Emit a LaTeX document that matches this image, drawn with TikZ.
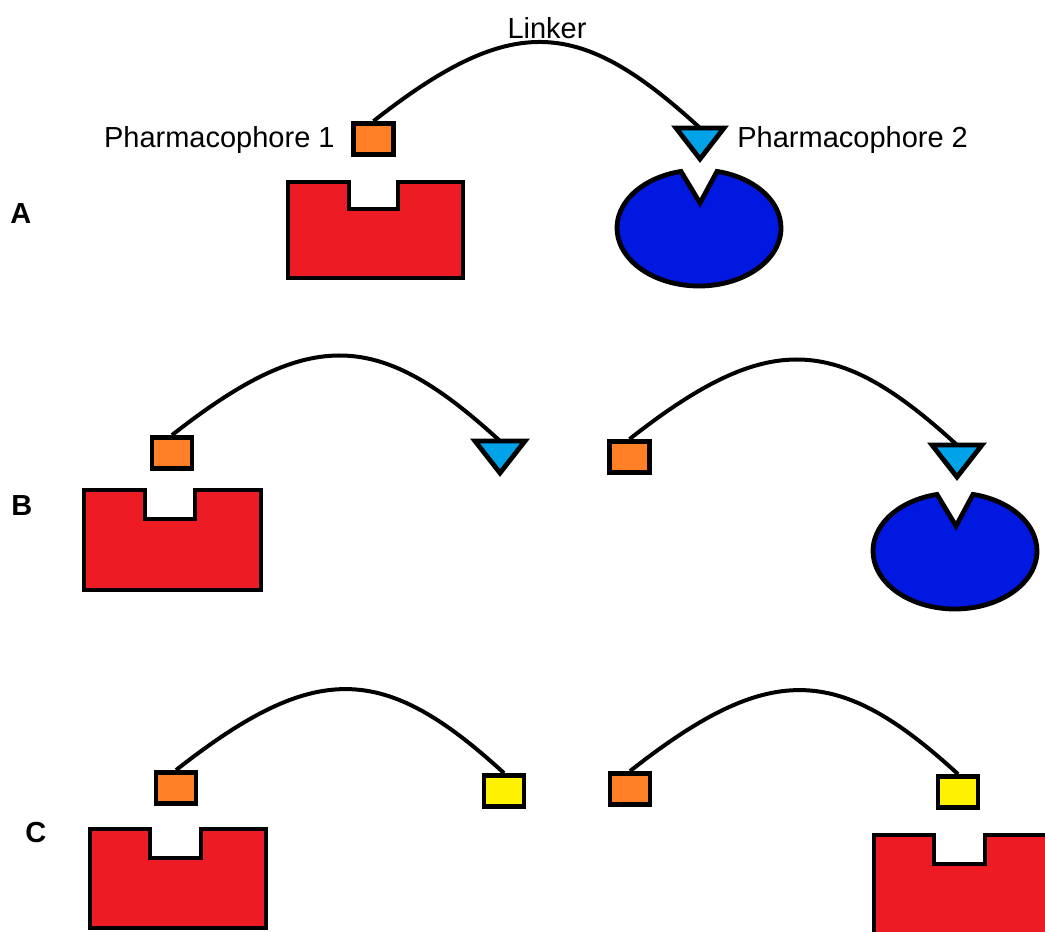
\documentclass[tikz,border=0pt]{standalone}
\usepackage{fontspec}
\setmainfont{Liberation Sans}
\usetikzlibrary{positioning,calc}

\definecolor{recred}{RGB}{237,28,36}
\definecolor{recblue}{RGB}{0,24,224}
\definecolor{ligorange}{RGB}{255,127,39}
\definecolor{ligcyan}{RGB}{0,162,232}
\definecolor{ligyellow}{RGB}{255,242,0}

\begin{document}
\begin{tikzpicture}[x=0.5pt,y=-0.5pt,
  outline/.style={draw=black,line width=2.4pt,line join=miter},
  frag/.style={outline,minimum width=20pt,minimum height=15.5pt,inner sep=0pt},
  linker/.style={draw=black,line width=2pt},
  lbl/.style={inner sep=0pt,font=\fontsize{14.5pt}{17pt}\selectfont},
  panel/.style={inner sep=0pt,font=\fontsize{14.5pt}{17pt}\selectfont\bfseries}]
\clip (0,0) rectangle (1045,932);
\fill[white] (0,0) rectangle (1045,932);

% A
\node[panel,anchor=base west] (pa) at (10,223) {A};
\draw[outline,fill=recred] (288,182) -- ++(61,0) -- ++(0,27) -- ++(49,0) -- ++(0,-27) -- ++(65,0) -- ++(0,96) -- ++(-175,0) -- cycle;
\draw[outline,fill=recblue] (699,228) ++(-77.3:82 and 58) arc[start angle=-77.3,end angle=257.3,x radius=82,y radius=58] -- (700,203) -- cycle;
\node[frag,fill=ligorange] (o1) at (373.5,139) {};
\coordinate (t1) at (700,128);
\draw[outline,fill=ligcyan] (t1) ++(-24,0) -- ++(48,0) -- ++(-24,31) -- cycle;
\draw[linker] (o1.north) .. controls +(140,-110) and +(-120,-110) .. (t1);
\node[lbl,anchor=base] (lk) at (547,38) {Linker};
\node[lbl,anchor=base east] (p1) at (335,147) {Pharmacophore 1};
\node[lbl,anchor=base west] (p2) at (737,147) {Pharmacophore 2};

% B
\node[panel,anchor=base west] (pb) at (11,515) {B};
\draw[outline,fill=recred] (84,490) -- ++(61,0) -- ++(0,29) -- ++(50,0) -- ++(0,-29) -- ++(66,0) -- ++(0,100) -- ++(-177,0) -- cycle;
\draw[outline,fill=recblue] (955,551) ++(-77.3:82 and 58) arc[start angle=-77.3,end angle=257.3,x radius=82,y radius=58] -- (956,526) -- cycle;
\node[frag,fill=ligorange] (o2) at (172,453) {};
\coordinate (t2) at (500,441);
\draw[outline,fill=ligcyan] (t2) ++(-25,0) -- ++(50,0) -- ++(-25,32) -- cycle;
\draw[linker] (o2.north) .. controls +(140,-110) and +(-120,-110) .. (t2);
\node[frag,fill=ligorange] (o3) at (629.5,457) {};
\coordinate (t3) at (957,445);
\draw[outline,fill=ligcyan] (t3) ++(-25,0) -- ++(50,0) -- ++(-25,32) -- cycle;
\draw[linker] (o3.north) .. controls +(140,-110) and +(-120,-110) .. (t3);

% C
\node[panel,anchor=base west] (pc) at (25,842) {C};
\draw[outline,fill=recred] (90,829) -- ++(60,0) -- ++(0,29) -- ++(51,0) -- ++(0,-29) -- ++(65,0) -- ++(0,99) -- ++(-176,0) -- cycle;
\draw[outline,fill=recred] (874,835) -- ++(60,0) -- ++(0,29) -- ++(51,0) -- ++(0,-29) -- ++(65,0) -- ++(0,99) -- ++(-176,0) -- cycle;
\node[frag,fill=ligorange] (o4) at (176,788) {};
\node[frag,fill=ligyellow] (y1) at (504,791) {};
\draw[linker] (o4.north) .. controls +(140,-110) and +(-120,-110) .. (y1.north);
\node[frag,fill=ligorange] (o5) at (630,789) {};
\node[frag,fill=ligyellow] (y2) at (958,792) {};
\draw[linker] (o5.north) .. controls +(140,-110) and +(-120,-110) .. (y2.north);

\end{tikzpicture}
\end{document}
